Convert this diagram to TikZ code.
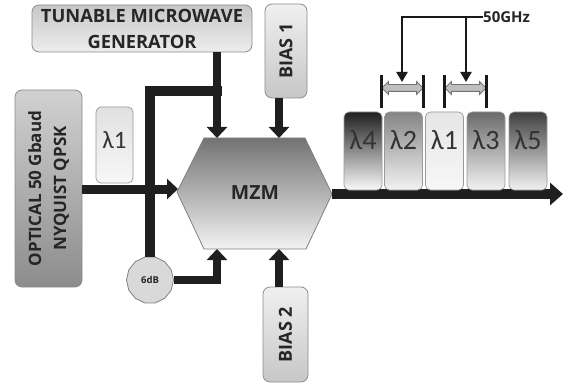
\documentclass[tikz,border=0pt]{standalone}
\usepackage{fontspec}
\setmainfont{Open Sans}
\newfontfamily\lamfont{Carlito}
\usetikzlibrary{arrows.meta,shapes.arrows,shapes.geometric}
\begin{document}
\begin{tikzpicture}[x=1pt,y=-1pt,
  box/.style={draw=black!45, line width=0.8pt, rounded corners=7pt, inner sep=0pt},
  lbl/.style={text=black!85, align=center, inner sep=0pt},
  lamtxt/.style={text=black!80, inner sep=0pt, font=\lamfont\fontsize{28}{30}\selectfont},
  lbox/.style={draw=black!40, line width=0.7pt, rounded corners=5pt, minimum width=38pt, minimum height=78pt, inner sep=0pt},
  fatline/.style={line width=8pt, draw=black!88},
  fatarrow/.style={fatline, -{Triangle[width=20pt,length=11pt]}},
  bigarrow/.style={line width=10pt, draw=black!88, -{Triangle[width=22pt,length=13pt]}},
  thinarrow/.style={line width=2pt, draw=black!90, -{Triangle[width=11pt,length=10pt]}},
  bar/.style={line width=2.5pt, draw=black!90},
  dblarr/.style={shape=double arrow, double arrow head extend=3pt, inner sep=3pt, fill=black!25, draw=black!55, line width=0.8pt, minimum height=41pt}
]
\useasboundingbox (0,0) rectangle (565,385);

% coordinates on the MZM
\coordinate (mL) at (177,192);
\coordinate (mTL) at (204,138);
\coordinate (mTR) at (305,138);
\coordinate (mR) at (332,194);
\coordinate (mBR) at (306,249);
\coordinate (mBL) at (204,249);
\coordinate (t1) at (217,138);
\coordinate (t2) at (279,138);
\coordinate (b1) at (217,249);
\coordinate (b2) at (279,249);
\coordinate (inL) at (178,189);
\coordinate (out) at (563,194);
\coordinate (br) at (222,91);

% boxes
\node[box, minimum width=220pt, minimum height=47pt, top color=black!22, bottom color=black!7] (gen) at (142,28.5) {};
\node[lbl, font=\bfseries\fontsize{18.3}{26}\selectfont] at (gen.center) {TUNABLE MICROWAVE\\GENERATOR};

\node[box, minimum width=42pt, minimum height=94pt, top color=black!6, bottom color=black!22] (bias1) at (286,51) {};
\node[lbl, rotate=90, font=\bfseries\fontsize{18}{20}\selectfont] at (bias1.center) {BIAS 1};

\node[box, minimum width=45pt, minimum height=95pt, top color=black!6, bottom color=black!22] (bias2) at (285.5,334.5) {};
\node[lbl, rotate=90, font=\bfseries\fontsize{18}{20}\selectfont] at (bias2.center) {BIAS 2};

\node[box, minimum width=67pt, minimum height=197pt, top color=black!18, bottom color=black!45] (opt) at (48.5,188.5) {};
\node[lbl, rotate=90, font=\bfseries\fontsize{17}{25}\selectfont] at (opt.center) {OPTICAL 50 Gbaud\\NYQUIST QPSK};

\node[lbox, minimum width=37pt, minimum height=76pt, top color=black!12, bottom color=black!3] (lamL) at (114.5,145) {};
\node[lamtxt, font=\lamfont\fontsize{25}{27}\selectfont, yshift=5pt] at (lamL.center) {λ1};

% MZM
\path[draw=black!50, line width=0.8pt, top color=black!55, bottom color=black!5] (mL) -- (mTL) -- (mTR) -- (mR) -- (mBR) -- (mBL) -- cycle;
\node[lbl, font=\bfseries\fontsize{19.5}{22}\selectfont] (mzm) at (255,193) {MZM};

% attenuator
\node[draw=black!50, line width=0.8pt, fill=black!15, shape=regular polygon, regular polygon sides=14, minimum size=47pt, inner sep=0pt, font=\bfseries\fontsize{9.5}{10}\selectfont, text=black!85] (att) at (150,280) {6dB};

% connectors
\draw[fatline, line width=10pt] (br) -| (att.north);
\draw[fatarrow] (gen.south -| t1) -- (t1);
\draw[fatarrow] (bias1.south -| t2) -- (t2);
\draw[fatarrow] (bias2.north -| b2) -- (b2);
\draw[fatarrow] (att.east) -| (b1);
\draw[fatarrow, line width=9pt] (opt.east |- inL) -- (inL);
\draw[bigarrow] (mR) -- (out);

% wavelength channels
\node[lbox, top color=black!88, bottom color=black!2] (l4) at (363,151) {};
\node[lbox, top color=black!48, bottom color=black!5] (l2) at (403.5,151) {};
\node[lbox, top color=black!10, bottom color=black!3] (l1) at (444.5,151) {};
\node[lbox, top color=black!58, bottom color=black!5] (l3) at (486,151) {};
\node[lbox, top color=black!75, bottom color=black!5] (l5) at (528,151) {};
\node[lamtxt, yshift=11pt] at (l4.center) {λ4};
\node[lamtxt, yshift=11pt] at (l2.center) {λ2};
\node[lamtxt, yshift=11pt] at (l1.center) {λ1};
\node[lamtxt, yshift=11pt] at (l3.center) {λ3};
\node[lamtxt, yshift=11pt] at (l5.center) {λ5};

% spacing arrows
\node[dblarr] (d1) at (402.5,88) {};
\node[dblarr] (d2) at (465.5,88) {};
\draw[bar] ([yshift=13pt]d1.west) -- ([yshift=-20pt]d1.west);
\draw[bar] ([yshift=13pt]d1.east) -- ([yshift=-20pt]d1.east);
\draw[bar] ([yshift=13pt]d2.west) -- ([yshift=-20pt]d2.west);
\draw[bar] ([yshift=13pt]d2.east) -- ([yshift=-20pt]d2.east);

\node[lbl, anchor=west, font=\bfseries\fontsize{15}{17}\selectfont] (ghz) at (483,17) {50GHz};
\coordinate (a1) at (402,82);
\coordinate (a2) at (466,82);
\draw[thinarrow] (ghz.west) -| (a1);
\draw[thinarrow] (ghz.west -| a2) -- (a2);
\end{tikzpicture}
\end{document}
